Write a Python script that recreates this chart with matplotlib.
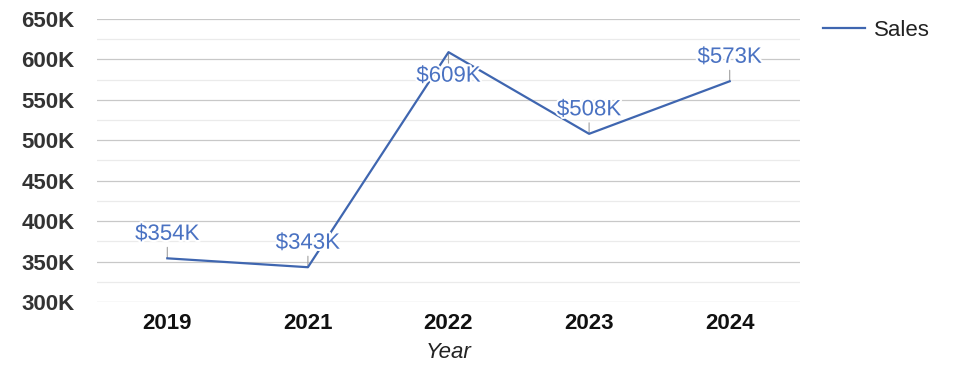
import matplotlib
matplotlib.use('Agg')
import matplotlib.pyplot as plt
import matplotlib.patheffects as pe
from matplotlib.ticker import MultipleLocator, FuncFormatter

# data
years = ['2019', '2021', '2022', '2023', '2024']
sales = [354000, 343000, 609000, 508000, 573000]
labels = ['$354K', '$343K', '$609K', '$508K', '$573K']
label_below = [False, False, True, False, False]

LINE_COLOR = '#3f66b0'
LABEL_COLOR = '#4a72c2'

plt.rcParams['font.family'] = ['Liberation Sans', 'DejaVu Sans']

fig = plt.figure(figsize=(9.75, 3.78), dpi=100)
ax = fig.add_axes([0.0995, 0.2011, 0.7210, 0.7486])

x = list(range(len(years)))
ax.plot(x, sales, color=LINE_COLOR, lw=1.6, label='Sales', zorder=3)

for xi, v, txt, below in zip(x, sales, labels, label_below):
    sign = -1 if below else 1
    # short leader line from the point towards the label
    ax.annotate('', xy=(xi, v), xytext=(0, sign * 11),
                textcoords='offset pixels', zorder=2,
                arrowprops=dict(arrowstyle='-', color='#a0a0a0', lw=0.8,
                                shrinkA=0, shrinkB=0))
    ax.annotate(txt, xy=(xi, v), xytext=(0, sign * 24),
                textcoords='offset pixels', ha='center', va='center',
                fontsize=16, color=LABEL_COLOR, zorder=4,
                path_effects=[pe.withStroke(linewidth=3, foreground='white')])

ax.set_xlim(-0.5, len(years) - 0.5)
ax.set_ylim(300000, 650000)
ax.set_xticks(x)
ax.set_xticklabels(years, fontsize=16, fontweight='bold', color='#111111')
ax.yaxis.set_major_locator(MultipleLocator(50000))
ax.yaxis.set_minor_locator(MultipleLocator(25000))
ax.yaxis.set_major_formatter(FuncFormatter(lambda v, p: f'{int(v/1000)}K'))
for t in ax.get_yticklabels():
    t.set_fontsize(16)
    t.set_fontweight('bold')
    t.set_color('#333333')

ax.grid(axis='y', which='major', color='#c8c8c8', lw=0.9)
ax.grid(axis='y', which='minor', color='#ebebeb', lw=0.9)
ax.set_axisbelow(True)
for s in ax.spines.values():
    s.set_visible(False)
ax.tick_params(axis='both', which='both', length=0)
ax.tick_params(axis='y', pad=16)
ax.tick_params(axis='x', pad=8)

ax.set_xlabel('Year', fontsize=16, style='italic', color='#222222', labelpad=6)

ax.legend(loc='upper left', bbox_to_anchor=(1.004, 1.067), frameon=False,
          fontsize=16, handlelength=1.9, handletextpad=0.4,
          labelcolor='#222222')

fig.savefig('out.png', dpi=100)
